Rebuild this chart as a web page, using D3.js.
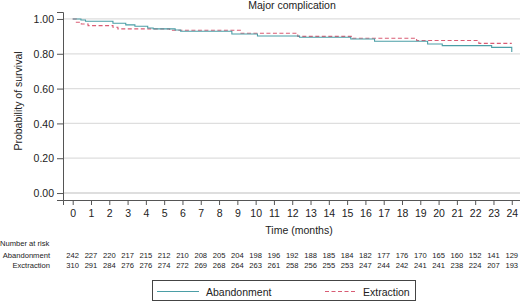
<!DOCTYPE html>
<html>
<head>
<meta charset="utf-8">
<script src="https://cdn.jsdelivr.net/npm/d3@7"></script>
<style>
  body { margin: 0; background: #fff; }
  text { font-family: "Liberation Sans", Arial, sans-serif; fill: #222; }
</style>
</head>
<body>
<div id="chart"></div>
<script>
// step data
const abandonTime = [0, 0.45, 0.7, 2.2, 2.9, 3.4, 4.1, 4.4, 5.6, 5.9, 8.7, 10.1, 12.4, 15.2, 16.5, 19.4, 20.2, 22.9, 24];
const abandonSurv = [1, 0.994, 0.987, 0.975, 0.966, 0.958, 0.948, 0.943, 0.937, 0.929, 0.914, 0.902, 0.895, 0.885, 0.872, 0.856, 0.847, 0.837, 0.81];
const extractTime = [0, 0.2, 0.47, 0.84, 2.2, 2.47, 5.3, 9.2, 12.3, 15.3, 18.8, 22.2, 24];
const extractSurv = [1, 0.981, 0.971, 0.962, 0.952, 0.943, 0.935, 0.918, 0.90, 0.889, 0.876, 0.86, 0.86];

const monthTicks = d3.range(0, 25);
const survTicks = [0, 0.2, 0.4, 0.6, 0.8, 1.0];
const riskAbandon = [242, 227, 220, 217, 215, 212, 210, 208, 205, 204, 198, 196, 192, 188, 185, 184, 182, 177, 176, 170, 165, 160, 152, 141, 129];
const riskExtract = [310, 291, 284, 276, 276, 274, 272, 269, 268, 264, 263, 261, 258, 256, 255, 253, 247, 244, 242, 241, 241, 238, 224, 207, 193];

const W = 520, H = 304;
const teal = "#4b9ea6", red = "#d95c74";

const svg = d3.select("#chart").append("svg")
    .attr("width", W)
    .attr("height", H);

const x = d3.scaleLinear().domain([-0.53, 24.45]).range([63, 520]);
const y = d3.scaleLinear().domain([-0.04, 1.04]).range([200, 12]);

// gridlines
svg.append("g").selectAll("line").data(survTicks).enter()
    .append("line")
    .attr("x1", 63).attr("x2", 520)
    .attr("y1", d => y(d)).attr("y2", d => y(d))
    .attr("stroke", "#dedede")
    .attr("stroke-width", d => d === 0 ? 2 : 1.3);

// y axis
const yAxis = d3.axisLeft(y).tickValues(survTicks).tickSize(6).tickPadding(3)
    .tickFormat(d3.format(".2f"));
const yG = svg.append("g").attr("transform", "translate(63,0)").call(yAxis);

// x axis
const xAxis = d3.axisBottom(x).tickValues(monthTicks).tickSize(5).tickPadding(5);
const xG = svg.append("g").attr("transform", "translate(0,200)").call(xAxis);

[yG, xG].forEach(g => {
    g.select(".domain").attr("stroke", "#555");
    g.selectAll(".tick line").attr("stroke", "#555");
    g.selectAll(".tick text")
        .attr("font-size", "10.5px")
        .attr("font-family", "Liberation Sans, Arial, sans-serif")
        .attr("fill", "#222");
});
yG.selectAll(".tick text").attr("dy", "0.35em");

// titles
svg.append("text").attr("x", 292).attr("y", 9)
    .attr("text-anchor", "middle").attr("font-size", "10.5px")
    .text("Major complication");

svg.append("text").attr("x", 299).attr("y", 234)
    .attr("text-anchor", "middle").attr("font-size", "10.5px")
    .text("Time (months)");

svg.append("text")
    .attr("transform", "translate(22,101) rotate(-90)")
    .attr("text-anchor", "middle").attr("font-size", "10.5px")
    .text("Probability of survival");

// curves
const line = d3.line()
    .x(d => x(d[0]))
    .y(d => y(d[1]))
    .curve(d3.curveStepAfter);

svg.append("path")
    .datum(extractTime.map((t, i) => [t, extractSurv[i]]))
    .attr("d", line)
    .attr("fill", "none")
    .attr("stroke", red)
    .attr("stroke-width", 1.1)
    .attr("stroke-dasharray", "4,2.5");

svg.append("path")
    .datum(abandonTime.map((t, i) => [t, abandonSurv[i]]))
    .attr("d", line)
    .attr("fill", "none")
    .attr("stroke", teal)
    .attr("stroke-width", 1.1);

// number at risk table
svg.append("text").attr("x", 0).attr("y", 245.5)
    .attr("font-size", "7.6px").text("Number at risk");

const rows = [
    { label: "Abandonment", values: riskAbandon, yPos: 258 },
    { label: "Exctraction", values: riskExtract, yPos: 268 }
];
rows.forEach(r => {
    svg.append("text").attr("x", 50).attr("y", r.yPos)
        .attr("text-anchor", "end").attr("font-size", "7.6px")
        .text(r.label);
    svg.append("g").selectAll("text").data(r.values).enter()
        .append("text")
        .attr("x", (d, i) => x(monthTicks[i]))
        .attr("y", r.yPos)
        .attr("text-anchor", "middle")
        .attr("font-size", "7.6px")
        .text(d => d);
});

// legend
const leg = svg.append("g");
leg.append("rect")
    .attr("x", 152.5).attr("y", 280.5)
    .attr("width", 263).attr("height", 20)
    .attr("fill", "#fff").attr("stroke", "#444").attr("stroke-width", 1);
leg.append("line").attr("x1", 157).attr("x2", 199).attr("y1", 291.5).attr("y2", 291.5)
    .attr("stroke", teal).attr("stroke-width", 1.1);
leg.append("text").attr("x", 206).attr("y", 295.5).attr("font-size", "10.5px").text("Abandonment");
leg.append("line").attr("x1", 325).attr("x2", 356).attr("y1", 291.5).attr("y2", 291.5)
    .attr("stroke", red).attr("stroke-width", 1.1).attr("stroke-dasharray", "4,2.5");
leg.append("text").attr("x", 363).attr("y", 295.5).attr("font-size", "10.5px").text("Extraction");
</script>
</body>
</html>
